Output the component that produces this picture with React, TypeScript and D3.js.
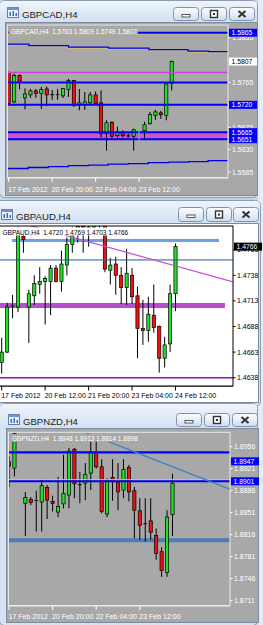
import React from "react";
import * as d3 from "d3";

type Candle = [number, number, number, number]; // open, high, low, close

// ---------- GBPCAD H4 ----------
const gbpcadCandles: (Candle | null)[] = [
  [1.5785, 1.5787, 1.5719, 1.5723],
  [1.5726, 1.5783, 1.5723, 1.5779],
  [1.5779, 1.5781, 1.5751, 1.5766],
  [1.5734, 1.5753, 1.5711, 1.5742],
  [1.574, 1.5752, 1.5734, 1.5748],
  [1.5748, 1.5752, 1.5734, 1.5743],
  [1.5743, 1.5756, 1.5712, 1.5751],
  [1.5752, 1.5757, 1.5718, 1.574],
  [1.5741, 1.575, 1.573, 1.574],
  [1.5741, 1.5752, 1.573, 1.574],
  [1.5738, 1.5754, 1.5734, 1.5753],
  [1.5751, 1.5772, 1.5736, 1.5769],
  [1.5769, 1.577, 1.5716, 1.5719],
  [1.572, 1.5752, 1.5709, 1.5724],
  [1.5721, 1.5746, 1.571, 1.5726],
  [1.5724, 1.5746, 1.5722, 1.574],
  [1.574, 1.5747, 1.5721, 1.5722],
  [1.5724, 1.5749, 1.5654, 1.5662],
  [1.5662, 1.5689, 1.5628, 1.5684],
  [1.5685, 1.5687, 1.5654, 1.5657],
  [1.5658, 1.5676, 1.5654, 1.5664],
  [1.5664, 1.5669, 1.5654, 1.5658],
  [1.5658, 1.5662, 1.5654, 1.5657],
  [1.5657, 1.5672, 1.5628, 1.567],
  null,
  [1.5668, 1.5686, 1.5651, 1.568],
  [1.5682, 1.5706, 1.568, 1.5701],
  [1.5699, 1.571, 1.569, 1.5706],
  [1.5704, 1.5708, 1.5692, 1.57],
  [1.5699, 1.5764, 1.5689, 1.5762],
  [1.5763, 1.5809, 1.5749, 1.5807],
];
const gbpcadVLine: [number, number, number][] = [[24, 1.5689, 1.5642]];
const gbpcadDateBars = [0, 8, 16, 24];
const gbpcadDateLabels = ["17 Feb 2012", "20 Feb 20:00", "22 Feb 04:00", "23 Feb 12:00"];
const gbpcadGrid = [1.5855, 1.5765, 1.572, 1.5675, 1.563, 1.5585];
const gbpcadBlueLevels = [1.5865, 1.5765, 1.572, 1.5665, 1.5651];
const gbpcadLabelLevels = [1.5865, 1.572, 1.5665, 1.5651];
const gbpcadMagentaLevels = [1.5785];
const gbpcadZone = [1.5651, 1.5665];
const gbpcadBid = [1.5807];
const gbpcadUpperSteps: [number, number][] = [
  [-1, 1.5842], [3.7, 1.5839], [11, 1.5836], [18.4, 1.5834], [25.8, 1.5831], [33, 1.5828], [36.8, 1.5827], [42, 1.5827],
];
const gbpcadLowerSteps: [number, number][] = [
  [-1, 1.5592], [3.6, 1.5594], [7.3, 1.5596], [11, 1.5598], [14.7, 1.5599], [18.3, 1.5601], [22, 1.5602],
  [25.7, 1.5604], [29.4, 1.5605], [33.1, 1.5606], [36.7, 1.5608], [42, 1.5608],
];

// ---------- GBPAUD H4 ----------
const gbpaudCandles: (Candle | null)[] = [
  [1.4653, 1.4677, 1.4642, 1.4663],
  [1.4663, 1.4711, 1.4662, 1.4707],
  [1.4708, 1.4719, 1.4696, 1.4708],
  [1.4707, 1.4785, 1.4702, 1.4778],
  [1.4776, 1.478, 1.476, 1.4773],
  [1.4707, 1.4724, 1.4672, 1.472],
  [1.4718, 1.4738, 1.4709, 1.473],
  [1.4729, 1.4746, 1.472, 1.4732],
  [1.4732, 1.4737, 1.469, 1.4735],
  [1.4732, 1.4748, 1.4699, 1.4745],
  [1.4745, 1.4748, 1.4731, 1.4732],
  [1.4732, 1.4762, 1.4722, 1.4749],
  [1.4748, 1.4775, 1.4738, 1.4768],
  [1.4768, 1.4785, 1.476, 1.4781],
  [1.478, 1.479, 1.477, 1.4786],
  [1.4786, 1.4789, 1.476, 1.4782],
  [1.4779, 1.4788, 1.4766, 1.4785],
  [1.4785, 1.4792, 1.4778, 1.4789],
  [1.4789, 1.4795, 1.478, 1.4791],
  [1.4788, 1.479, 1.4741, 1.4744],
  [1.4743, 1.4755, 1.4729, 1.4748],
  [1.4749, 1.4756, 1.4719, 1.4738],
  [1.4738, 1.4746, 1.471, 1.4726],
  [1.4726, 1.4764, 1.4709, 1.474],
  [1.4738, 1.4745, 1.471, 1.4717],
  [1.4718, 1.4727, 1.4657, 1.4686],
  [1.4686, 1.4714, 1.467, 1.4684],
  [1.4684, 1.4717, 1.4673, 1.47],
  [1.4699, 1.4729, 1.4682, 1.4687],
  [1.4688, 1.4689, 1.4643, 1.4657],
  [1.4657, 1.4678, 1.4648, 1.467],
  [1.4671, 1.4729, 1.4663, 1.472],
  [1.472, 1.4769, 1.4703, 1.4766],
];
const gbpaudDateBars = [0, 8, 16, 24, 32];
const gbpaudDateLabels = ["17 Feb 2012", "20 Feb 12:00", "21 Feb 20:00", "23 Feb 04:00", "24 Feb 12:00"];
const gbpaudGrid = [1.4763, 1.4738, 1.4713, 1.4688, 1.4663, 1.4638];
const gbpaudSkyZone = [1.47705, 1.47735];
const gbpaudSkyZoneBars = [1.9, 40];
const gbpaudSteelLevel = [1.4753];
const gbpaudVioletZone = [1.4706, 1.4711];
const gbpaudVioletZoneBars = [-2, 41.1];
const gbpaudPurpleLevel = [1.4638];
const gbpaudTrend: [number, number][] = [[18.1, 1.47676], [42.6, 1.47315]];
const gbpaudBid = [1.4766];

// ---------- GBPNZD H4 ----------
const gbpnzdCandles: (Candle | null)[] = [
  [1.8932, 1.8941, 1.8892, 1.8925],
  [1.8922, 1.8985, 1.8909, 1.8977],
  [1.898, 1.8995, 1.8979, 1.899],
  [1.8866, 1.8884, 1.8814, 1.8875],
  [1.8872, 1.8876, 1.8863, 1.8867],
  [1.8871, 1.8886, 1.8821, 1.887],
  [1.8868, 1.8904, 1.8821, 1.8894],
  [1.8891, 1.8895, 1.8841, 1.8871],
  [1.8869, 1.8878, 1.8853, 1.8866],
  [1.8852, 1.8908, 1.8844, 1.8861],
  [1.8865, 1.8943, 1.8858, 1.8882],
  [1.8879, 1.8954, 1.8858, 1.8949],
  [1.8952, 1.8954, 1.8874, 1.8897],
  [1.8896, 1.8916, 1.8866, 1.8895],
  [1.8898, 1.893, 1.8871, 1.8912],
  [1.8914, 1.8964, 1.8887, 1.8948],
  [1.8947, 1.8964, 1.8921, 1.8924],
  [1.8924, 1.8936, 1.885, 1.8853],
  [1.8849, 1.8906, 1.8844, 1.8903],
  [1.8907, 1.8936, 1.887, 1.89],
  [1.89, 1.893, 1.8855, 1.8884],
  [1.8887, 1.8936, 1.8874, 1.892],
  [1.8923, 1.8927, 1.8869, 1.8884],
  [1.8886, 1.8892, 1.881, 1.8855],
  [1.8854, 1.8874, 1.8808, 1.8831],
  [1.8834, 1.8874, 1.8805, 1.8833],
  [1.8838, 1.8874, 1.8808, 1.882],
  [1.8815, 1.8826, 1.8776, 1.8786],
  [1.8789, 1.8796, 1.8749, 1.8759],
  [1.8756, 1.8855, 1.8749, 1.8844],
  [1.8848, 1.8913, 1.8814, 1.8898],
];
const gbpnzdDateBars = [0, 8, 16, 24];
const gbpnzdDateLabels = ["17 Feb 2012", "20 Feb 20:00", "22 Feb 04:00", "23 Feb 12:00"];
const gbpnzdGrid = [1.8956, 1.8921, 1.8886, 1.8851, 1.8816, 1.8781, 1.8746, 1.8711];
const gbpnzdBlueLevels = [1.8947, 1.8901];
const gbpnzdSteelZone = [1.8807];
const gbpnzdTrend: [number, number][] = [[13.9, 1.89789], [40.6, 1.88882]];

// ---------- layout ----------
type Def = {
  id: string;
  symbol: string;
  win: [number, number, number, number];
  titleX: number;
  titleY: number;
  btnXs: number[];
  btnY: number;
  btnH: number;
  client: [number, number, number, number];
  plot: [number, number, number, number];
  bars: [number, number];
  prices: [number, number, number, number];
  light: boolean;
  candles: (Candle | null)[];
  grid: number[];
  dateBars: number[];
  dateLabels: string[];
  dateY: number;
  labelX: number;
};

const FONT = "'Liberation Sans', Arial, sans-serif";

const defs: Def[] = [
  {
    id: "cad", symbol: "GBPCAD", win: [-1, 0, 259, 198], titleX: 22, titleY: 18, btnXs: [173, 201, 229], btnY: 7, btnH: 14,
    client: [6, 23, 251, 172], plot: [7.5, 25, 228, 177.5], bars: [8.7, 171.7], prices: [1.5855, 37.7, 1.5585, 172],
    light: false, candles: gbpcadCandles, grid: gbpcadGrid, dateBars: gbpcadDateBars, dateLabels: gbpcadDateLabels,
    dateY: 191.5, labelX: 232,
  },
  {
    id: "aud", symbol: "GBPAUD", win: [-6, 200, 267, 207], titleX: 16, titleY: 220, btnXs: [178, 206, 233], btnY: 207, btnH: 15,
    client: [0, 224, 258, 178], plot: [-1, 226, 233, 386], bars: [1.7, 175.5], prices: [1.4738, 275.3, 1.4638, 377.7],
    light: true, candles: gbpaudCandles, grid: gbpaudGrid, dateBars: gbpaudDateBars, dateLabels: gbpaudDateLabels,
    dateY: 397.5, labelX: 237,
  },
  {
    id: "nzd", symbol: "GBPNZD", win: [-1, 403, 259, 223], titleX: 23, titleY: 425, btnXs: [176, 204, 232], btnY: 413, btnH: 14,
    client: [7, 429, 251, 193], plot: [8.5, 432.3, 230, 605.5], bars: [9, 172.5], prices: [1.8956, 446.7, 1.8711, 600.7],
    light: false, candles: gbpnzdCandles, grid: gbpnzdGrid, dateBars: gbpnzdDateBars, dateLabels: gbpnzdDateLabels,
    dateY: 618.5, labelX: 234,
  },
];

function Button({ x, y, w, h, kind }: { x: number; y: number; w: number; h: number; kind: string }) {
  const cx = x + w / 2;
  const cy = y + h / 2;
  return (
    <g>
      <rect x={x + 0.5} y={y + 0.5} width={w - 1} height={h - 1} rx={3} fill="url(#btnGrad)" stroke="#8193ab" />
      {kind === "min" && <rect x={cx - 4} y={cy + 0.5} width={8} height={2.5} fill="#fff" stroke="#333" strokeWidth={0.8} />}
      {kind === "max" && (
        <g>
          <rect x={cx - 3.5} y={cy - 3.5} width={7} height={7} fill="#fff" stroke="#333" strokeWidth={1.4} />
          <rect x={cx - 1} y={cy - 1} width={2} height={2} fill="#333" />
        </g>
      )}
      {kind === "close" && (
        <path
          d={`M${cx - 3.5},${cy - 3}L${cx + 3.5},${cy + 3}M${cx + 3.5},${cy - 3}L${cx - 3.5},${cy + 3}`}
          stroke="#333"
          strokeWidth={2}
        />
      )}
    </g>
  );
}

function WindowFrame({ d }: { d: Def }) {
  const [wx, wy, ww, wh] = d.win;
  const [cx, cy, cw, ch] = d.client;
  return (
    <g>
      <rect x={wx + 0.5} y={wy + 0.5} width={ww - 1} height={wh - 1} rx={5} fill="#d6e2f0" stroke="#8d9db4" />
      <rect x={wx + 1} y={wy + 1} width={ww - 2} height={cy - wy - 2} rx={4} fill="url(#titleGrad)" />
      <g transform={`translate(${d.titleX - 15},${d.titleY - 11})`}>
        <rect x={0.5} y={0.5} width={11} height={10} fill="#eaf2fb" stroke="#5f7fa8" />
        <rect x={0.5} y={0.5} width={11} height={2.5} fill="#6f95c8" />
        <rect x={2.5} y={5} width={1.5} height={4} fill="#3a6fb5" />
        <rect x={5.5} y={4} width={1.5} height={5} fill="#3a6fb5" />
        <rect x={8.5} y={6} width={1.5} height={3} fill="#3a6fb5" />
      </g>
      <text x={d.titleX} y={d.titleY} fontFamily={FONT} fontSize={9.6} fill="#1c1c1c">
        {d.symbol},H4
      </text>
      {d.btnXs.map((bx, i) => (
        <Button key={i} x={bx} y={d.btnY} w={26} h={d.btnH} kind={["min", "max", "close"][i]} />
      ))}
      <rect x={cx - 0.5} y={cy - 0.5} width={cw + 1} height={ch + 1} fill="none" stroke="#7c8ba0" />
      <rect x={cx} y={cy} width={cw} height={ch} fill={d.light ? "#ffffff" : "#a8a8a8"} />
    </g>
  );
}

function Chart({ d, back, front }: { d: Def; back?: (xs: any, ys: any) => React.ReactNode; front?: (xs: any, ys: any) => React.ReactNode }) {
  const [px0, py0, px1, py1] = d.plot;
  const n = d.candles.length;
  const xs = d3.scaleLinear().domain([0, n - 1]).range(d.bars);
  const ys = d3.scaleLinear().domain([d.prices[0], d.prices[2]]).range([d.prices[1], d.prices[3]]);
  const txt = d.light ? "#000" : "#fff";
  const bg = d.light ? "#ffffff" : "#a8a8a8";
  const border = d.light ? "#000" : "#e8e8e8";
  const last = d.candles[n - 1] as Candle;
  const header = `${d.symbol},H4  ${last.map((v) => v.toFixed(4)).join(" ")}`;
  const clip = `clip-${d.id}`;
  return (
    <g>
      <defs>
        <clipPath id={clip}>
          <rect x={px0} y={py0} width={px1 - px0} height={py1 - py0} />
        </clipPath>
      </defs>
      {d.grid.map((p) => (
        <g key={p}>
          <line x1={px1} x2={px1 + 2.5} y1={ys(p)} y2={ys(p)} stroke={txt} />
          <text x={d.labelX} y={ys(p) + 2.5} fontFamily={FONT} fontSize={7} fill={txt}>
            {p.toFixed(4)}
          </text>
        </g>
      ))}
      <line x1={px0} x2={px1} y1={py1 + 0.5} y2={py1 + 0.5} stroke={d.light ? "#888" : "#f0f0f0"} />
      {d.dateBars.map((b, i) => (
        <g key={b}>
          <line x1={xs(b)} x2={xs(b)} y1={py1} y2={py1 + 4.5} stroke={txt} />
          <text x={xs(b) - 0.5} y={d.dateY} fontFamily={FONT} fontSize={7} fill={txt}>
            {d.dateLabels[i]}
          </text>
        </g>
      ))}
      <g clipPath={`url(#${clip})`}>
        {back && back(xs, ys)}
        {d.candles.map((c, i) => {
          if (!c) return null;
          const [o, h, l, cl] = c;
          const x = xs(i);
          const top = ys(Math.max(o, cl));
          const bot = ys(Math.min(o, cl));
          const doji = bot - top < 1;
          return (
            <g key={i}>
              <line x1={x} x2={x} y1={ys(h)} y2={ys(l)} stroke="#000" strokeWidth={1} />
              {doji ? (
                <line x1={x - 1.8} x2={x + 1.8} y1={(top + bot) / 2} y2={(top + bot) / 2} stroke="#000" strokeWidth={1} />
              ) : (
                <rect
                  x={x - 1.6}
                  y={top}
                  width={3.2}
                  height={bot - top}
                  fill={cl >= o ? "#22e022" : "#ee1111"}
                  stroke="#000"
                  strokeWidth={0.7}
                />
              )}
            </g>
          );
        })}
        {front && front(xs, ys)}
        <rect x={px0 + 1} y={py0 + 1.5} width={header.length * 3.3 + 4} height={8} fill={bg} />
        <text x={px0 + 3.5} y={py0 + 8.5} fontFamily={FONT} fontSize={6.5} fill={txt} style={{ whiteSpace: "pre" }}>
          {header}
        </text>
      </g>
      <rect x={px0} y={py0} width={px1 - px0} height={py1 - py0} fill="none" stroke={border} strokeWidth={1} />
    </g>
  );
}

function LevelLabel({ x, y, text, bg, fg }: { x: number; y: number; text: string; bg: string; fg: string }) {
  return (
    <g>
      <rect x={x} y={y - 4} width={28} height={8} fill={bg} />
      <text x={x + 2.5} y={y + 2.5} fontFamily={FONT} fontSize={6.8} fill={fg}>
        {text}
      </text>
    </g>
  );
}

export default function App() {
  const [cad, aud, nzd] = defs;
  const step = d3.line<[number, number]>().curve(d3.curveStepAfter);
  const fullX = (d: Def) => [d.plot[0], d.plot[2]];

  const trendPath = (xs: any, ys: any, pts: [number, number][], d: Def) => {
    const [a, b] = pts;
    const xa = xs(a[0]), ya = ys(a[1]), xb = xs(b[0]), yb = ys(b[1]);
    const k = (yb - ya) / (xb - xa);
    const x0 = d.plot[0] - 5, x1 = d.plot[2] + 5;
    return `M${x0},${ya + k * (x0 - xa)}L${x1},${ya + k * (x1 - xa)}`;
  };

  return (
    <div style={{ position: "absolute", left: 0, top: 0 }}>
      <svg width={263} height={625} style={{ display: "block" }}>
        <defs>
          <linearGradient id="titleGrad" x1="0" y1="0" x2="0" y2="1">
            <stop offset="0" stopColor="#eef4fb" />
            <stop offset="1" stopColor="#d4e1f1" />
          </linearGradient>
          <linearGradient id="btnGrad" x1="0" y1="0" x2="0" y2="1">
            <stop offset="0" stopColor="#fbfdff" />
            <stop offset="0.5" stopColor="#e6eef8" />
            <stop offset="1" stopColor="#cfdced" />
          </linearGradient>
        </defs>
        <rect x={0} y={0} width={263} height={625} fill="#c5d4e6" />
        <rect x={258} y={0} width={5} height={625} fill="#e4ecf6" />

        {/* ---------- GBPCAD ---------- */}
        <WindowFrame d={cad} />
        <Chart
          d={cad}
          back={(xs, ys) => (
            <g>
              <rect
                x={cad.plot[0]}
                y={ys(gbpcadZone[1])}
                width={cad.plot[2] - cad.plot[0]}
                height={ys(gbpcadZone[0]) - ys(gbpcadZone[1])}
                fill="#cc55cc"
              />
            </g>
          )}
          front={(xs, ys) => (
            <g>
              <path
                d={step(gbpcadUpperSteps.map(([b, p]) => [xs(b), ys(p)]) as any) || ""}
                transform="translate(0,1.3)"
                fill="none"
                stroke="#cdbb7a"
                strokeWidth={1}
              />
              <path d={step(gbpcadUpperSteps.map(([b, p]) => [xs(b), ys(p)]) as any) || ""} fill="none" stroke="#0000ee" strokeWidth={1.3} />
              <path d={step(gbpcadLowerSteps.map(([b, p]) => [xs(b), ys(p)]) as any) || ""} fill="none" stroke="#0000ee" strokeWidth={1.3} />
              {gbpcadMagentaLevels.map((p) => (
                <line key={p} x1={fullX(cad)[0]} x2={fullX(cad)[1]} y1={ys(p)} y2={ys(p)} stroke="#cc44dd" strokeWidth={1.3} />
              ))}
              <line x1={fullX(cad)[0]} x2={fullX(cad)[1]} y1={ys(gbpcadBlueLevels[0]) + 1.4} y2={ys(gbpcadBlueLevels[0]) + 1.4} stroke="#cdbb7a" strokeWidth={1} />
              {gbpcadBlueLevels.map((p) => (
                <line key={p} x1={fullX(cad)[0]} x2={fullX(cad)[1]} y1={ys(p)} y2={ys(p)} stroke="#0000ff" strokeWidth={2} />
              ))}
              {gbpcadVLine.map(([b, hi, lo]) => (
                <line key={b} x1={xs(b)} x2={xs(b)} y1={ys(hi)} y2={ys(lo)} stroke="#44ee44" strokeWidth={1} />
              ))}
            </g>
          )}
        />
        {(() => {
          const ys = d3.scaleLinear().domain([cad.prices[0], cad.prices[2]]).range([cad.prices[1], cad.prices[3]]);
          return (
            <g>
              {gbpcadLabelLevels.map((p) => (
                <LevelLabel key={p} x={cad.plot[2] + 1} y={ys(p)} text={p.toFixed(4)} bg="#0000ff" fg="#fff" />
              ))}
              {gbpcadBid.map((p) => (
                <LevelLabel key={p} x={cad.plot[2] + 1} y={ys(p)} text={p.toFixed(4)} bg="#ffffff" fg="#000" />
              ))}
            </g>
          );
        })()}

        {/* ---------- GBPAUD ---------- */}
        <WindowFrame d={aud} />
        <Chart
          d={aud}
          back={(xs, ys) => (
            <g>
              <rect
                x={xs(gbpaudVioletZoneBars[0])}
                y={ys(gbpaudVioletZone[1])}
                width={xs(gbpaudVioletZoneBars[1]) - xs(gbpaudVioletZoneBars[0])}
                height={ys(gbpaudVioletZone[0]) - ys(gbpaudVioletZone[1])}
                fill="#b54fcf"
              />
              <rect
                x={xs(gbpaudSkyZoneBars[0])}
                y={ys(gbpaudSkyZone[1])}
                width={xs(gbpaudSkyZoneBars[1]) - xs(gbpaudSkyZoneBars[0])}
                height={ys(gbpaudSkyZone[0]) - ys(gbpaudSkyZone[1])}
                fill="#6f9fe8"
              />
            </g>
          )}
          front={(xs, ys) => (
            <g>
              {gbpaudSteelLevel.map((p) => (
                <line key={p} x1={fullX(aud)[0]} x2={fullX(aud)[1]} y1={ys(p)} y2={ys(p)} stroke="#1c5c9c" strokeWidth={1} />
              ))}
              {gbpaudPurpleLevel.map((p) => (
                <line key={p} x1={fullX(aud)[0]} x2={fullX(aud)[1]} y1={ys(p)} y2={ys(p)} stroke="#8a10d0" strokeWidth={1.5} />
              ))}
              <path d={trendPath(xs, ys, gbpaudTrend, aud)} stroke="#c050d0" strokeWidth={1.2} fill="none" />
            </g>
          )}
        />
        {(() => {
          const ys = d3.scaleLinear().domain([aud.prices[0], aud.prices[2]]).range([aud.prices[1], aud.prices[3]]);
          return gbpaudBid.map((p) => (
            <LevelLabel key={p} x={aud.plot[2] + 1} y={ys(p)} text={p.toFixed(4)} bg="#000" fg="#fff" />
          ));
        })()}

        {/* ---------- GBPNZD ---------- */}
        <WindowFrame d={nzd} />
        <Chart
          d={nzd}
          back={(xs, ys) => (
            <g>
              {gbpnzdSteelZone.map((p) => (
                <line key={p} x1={fullX(nzd)[0]} x2={fullX(nzd)[1]} y1={ys(p)} y2={ys(p)} stroke="#4a7fb6" strokeWidth={4} />
              ))}
            </g>
          )}
          front={(xs, ys) => (
            <g>
              <line x1={fullX(nzd)[0]} x2={fullX(nzd)[1]} y1={ys(gbpnzdBlueLevels[1]) - 1.6} y2={ys(gbpnzdBlueLevels[1]) - 1.6} stroke="#d8c97a" strokeWidth={1} />
              {gbpnzdBlueLevels.map((p) => (
                <line key={p} x1={fullX(nzd)[0]} x2={fullX(nzd)[1]} y1={ys(p)} y2={ys(p)} stroke="#0000ff" strokeWidth={2.2} />
              ))}
              <path d={trendPath(xs, ys, gbpnzdTrend, nzd)} stroke="#3f82c4" strokeWidth={1.3} fill="none" />
            </g>
          )}
        />
        {(() => {
          const ys = d3.scaleLinear().domain([nzd.prices[0], nzd.prices[2]]).range([nzd.prices[1], nzd.prices[3]]);
          return gbpnzdBlueLevels.map((p, i) => (
            <LevelLabel key={p} x={nzd.plot[2] + 1} y={ys(p) + (i === 0 ? 9 : 0)} text={p.toFixed(4)} bg="#0000ff" fg="#fff" />
          ));
        })()}
      </svg>
    </div>
  );
}
